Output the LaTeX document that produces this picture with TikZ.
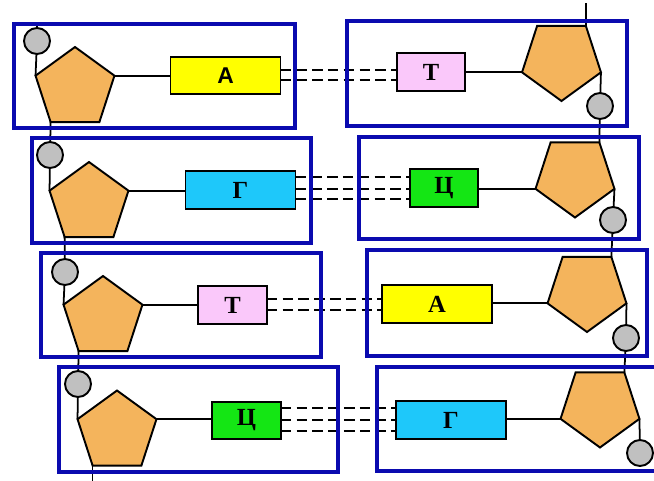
\documentclass[tikz,border=0pt]{standalone}
\usepackage{fontspec}
\setmainfont{Liberation Serif}
\newfontfamily\basesans{Liberation Sans}
\usepackage{tikz}
\usetikzlibrary{
    shapes.geometric,
    positioning,
    calc,
}
\definecolor{frameBlue}{RGB}{10,10,175}
\definecolor{sugarOrange}{RGB}{244,180,92}
\definecolor{phosphateGray}{RGB}{192,192,192}
\definecolor{adenineYellow}{RGB}{255,255,0}
\definecolor{thyminePink}{RGB}{250,200,250}
\definecolor{guanineCyan}{RGB}{30,200,250}
\definecolor{cytosineGreen}{RGB}{20,230,20}

\begin{document}
\begin{tikzpicture}[x=0.02cm, y=-0.02cm]

    \tikzstyle{commonNode}=[draw=black, line width=1.1pt, inner sep=0pt, outer sep=0pt]
    \tikzstyle{sugar}=[commonNode, regular polygon, regular polygon sides=5, minimum size=1.66cm, fill=sugarOrange]
    \tikzstyle{sugarFlip}=[sugar, shape border rotate=180]
    \tikzstyle{phosphate}=[commonNode, circle, minimum size=0.52cm, fill=phosphateGray]
    \tikzstyle{base}=[commonNode, rectangle, minimum height=0.75cm, font=\fontsize{14}{15}\selectfont\bfseries]
    \tikzstyle{purine}=[base, minimum width=2.2cm]
    \tikzstyle{pyrimidine}=[base, minimum width=1.37cm]
    \tikzstyle{strand}=[line width=1pt]
    \tikzstyle{hbond}=[line width=1.1pt, dash pattern=on 6pt off 3pt]
    \tikzstyle{pairFrame}=[draw=frameBlue, line width=2.3pt]

    \useasboundingbox (0,0) rectangle (654,481);
    \clip (0,0) rectangle (654,481);

    % Strand ends
    \coordinate (topL) at (37,24);
    \coordinate (botL) at (92,481);
    \coordinate (topR) at (587,3);

    % Pair 1: A - T
    \node at (75,88.5)    [sugar]      (SL1) {};
    \node at (37,41)      [phosphate]  (PL1) {};
    \node at (225.5,75.5) [purine, fill=adenineYellow, font=\fontsize{13}{15}\selectfont\basesans\bfseries] (BL1) {А};
    \node at (561.5,59.5) [sugarFlip]  (SR1) {};
    \node at (600,106)    [phosphate]  (PR1) {};
    \node at (431,72)     [pyrimidine, fill=thyminePink] (BR1) {Т};

    % Pair 2: G - C
    \node at (89,203.5)   [sugar]      (SL2) {};
    \node at (50,155)     [phosphate]  (PL2) {};
    \node at (240.5,190)  [purine, fill=guanineCyan] (BL2) {Г};
    \node at (575,176)    [sugarFlip]  (SR2) {};
    \node at (613,220)    [phosphate]  (PR2) {};
    \node at (444,188)    [pyrimidine, fill=cytosineGreen] (BR2) {Ц};

    % Pair 3: T - A
    \node at (103,317.5)  [sugar]      (SL3) {};
    \node at (65,272)     [phosphate]  (PL3) {};
    \node at (232.5,305)  [pyrimidine, fill=thyminePink] (BL3) {Т};
    \node at (587,290.5)  [sugarFlip]  (SR3) {};
    \node at (626,338)    [phosphate]  (PR3) {};
    \node at (437,304)    [purine, fill=adenineYellow] (BR3) {А};

    % Pair 4: C - G
    \node at (117,432)    [sugar]      (SL4) {};
    \node at (78,384)     [phosphate]  (PL4) {};
    \node at (246.5,420.5) [pyrimidine, fill=cytosineGreen] (BL4) {Ц};
    \node at (600,406)    [sugarFlip]  (SR4) {};
    \node at (640,453)    [phosphate]  (PR4) {};
    \node at (451,420)    [purine, fill=guanineCyan] (BR4) {Г};

    % Left strand
    \draw[strand] (topL) -- (PL1);
    \draw[strand] (PL1) -- (SL1.corner 2);
    \draw[strand] (SL1.corner 3) -- (PL2);
    \draw[strand] (PL2) -- (SL2.corner 2);
    \draw[strand] (SL2.corner 3) -- (PL3);
    \draw[strand] (PL3) -- (SL3.corner 2);
    \draw[strand] (SL3.corner 3) -- (PL4);
    \draw[strand] (PL4) -- (SL4.corner 2);
    \draw[strand] (SL4.corner 3) -- (SL4.corner 3 |- botL);

    % Right strand
    \draw[strand] (SR1.corner 3 |- topR) -- (SR1.corner 3);
    \draw[strand] (SR1.corner 2) -- (PR1);
    \draw[strand] (PR1) -- (SR2.corner 3);
    \draw[strand] (SR2.corner 2) -- (PR2);
    \draw[strand] (PR2) -- (SR3.corner 3);
    \draw[strand] (SR3.corner 2) -- (PR3);
    \draw[strand] (PR3) -- (SR4.corner 3);
    \draw[strand] (SR4.corner 2) -- (PR4);

    % Sugar to base
    \draw[strand] (SL1.corner 5) -- (SL1.corner 5 -| BL1.west);
    \draw[strand] (SL2.corner 5) -- (SL2.corner 5 -| BL2.west);
    \draw[strand] (SL3.corner 5) -- (SL3.corner 5 -| BL3.west);
    \draw[strand] (SL4.corner 5) -- (SL4.corner 5 -| BL4.west);
    \draw[strand] (SR1.corner 5) -- (SR1.corner 5 -| BR1.east);
    \draw[strand] (SR2.corner 5) -- (SR2.corner 5 -| BR2.east);
    \draw[strand] (SR3.corner 5) -- (SR3.corner 5 -| BR3.east);
    \draw[strand] (SR4.corner 5) -- (SR4.corner 5 -| BR4.east);

    % Hydrogen bonds
    \foreach \dy in {-5.5,4.5}
        \draw[hbond] ($(BL1.east)+(0,\dy)$) -- ($(BL1.east -| BR1.west)+(0,\dy)$);
    \foreach \dy in {-13,-1,9}
        \draw[hbond] ($(BL2.east)+(0,\dy)$) -- ($(BL2.east -| BR2.west)+(0,\dy)$);
    \foreach \dy in {-6,5}
        \draw[hbond] ($(BL3.east)+(0,\dy)$) -- ($(BL3.east -| BR3.west)+(0,\dy)$);
    \foreach \dy in {-12.5,-0.5,10.5}
        \draw[hbond] ($(BL4.east)+(0,\dy)$) -- ($(BL4.east -| BR4.west)+(0,\dy)$);

    % Frames
    \draw[pairFrame] (14,24) rectangle (295,128);
    \draw[pairFrame] (347,21) rectangle (627,126);
    \draw[pairFrame] (32,138) rectangle (311,243);
    \draw[pairFrame] (359,137) rectangle (639,239);
    \draw[pairFrame] (41,253) rectangle (321,357);
    \draw[pairFrame] (367,250) rectangle (647,356);
    \draw[pairFrame] (59,367) rectangle (338,472);
    \draw[pairFrame] (377,367) rectangle (664,471);
\end{tikzpicture}
\end{document}
